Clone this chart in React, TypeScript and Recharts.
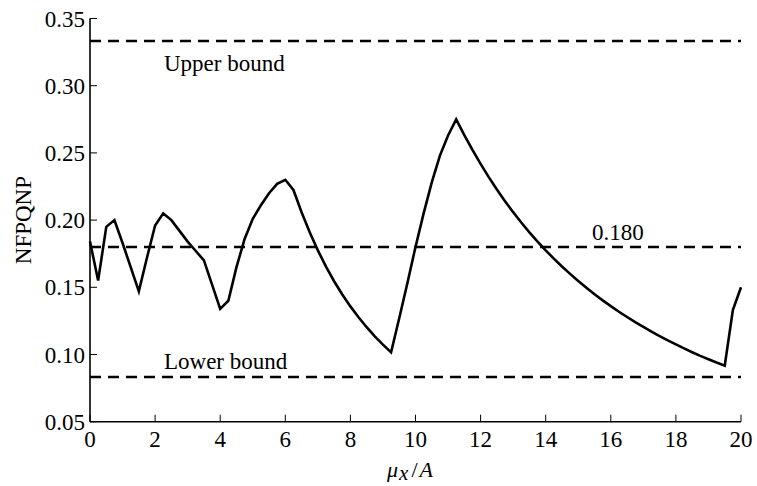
import { LineChart, Line, XAxis, YAxis, ReferenceLine } from 'recharts';

// normalised frequency vs mu_x / A, sampled every 0.25
const muX = [
  0, 0.25, 0.5, 0.75, 1, 1.25, 1.5, 1.75, 2, 2.25, 2.5, 2.75, 3, 3.25, 3.5, 3.75,
  4, 4.25, 4.5, 4.75, 5, 5.25, 5.5, 5.75, 6, 6.25, 6.5, 6.75, 7, 7.25, 7.5, 7.75,
  8, 8.25, 8.5, 8.75, 9, 9.25, 9.5, 9.75, 10, 10.25, 10.5, 10.75, 11, 11.25, 11.5, 11.75,
  12, 12.25, 12.5, 12.75, 13, 13.25, 13.5, 13.75, 14, 14.25, 14.5, 14.75, 15, 15.25, 15.5, 15.75,
  16, 16.25, 16.5, 16.75, 17, 17.25, 17.5, 17.75, 18, 18.25, 18.5, 18.75, 19, 19.25, 19.5, 19.75,
  20,
];

const nfpqnp = [
  0.184, 0.155, 0.195, 0.2, 0.183, 0.165, 0.147, 0.172, 0.196, 0.205, 0.2, 0.192, 0.184, 0.177, 0.17, 0.152,
  0.134, 0.14, 0.165, 0.186, 0.201, 0.211, 0.22, 0.227, 0.23, 0.2224, 0.2058, 0.1909, 0.1775, 0.1654, 0.1545, 0.1447,
  0.1358, 0.1277, 0.1203, 0.1135, 0.1073, 0.1016, 0.127, 0.153, 0.18, 0.205, 0.228, 0.248, 0.263, 0.275, 0.2632, 0.2522,
  0.2418, 0.232, 0.2228, 0.2141, 0.2059, 0.1982, 0.1909, 0.184, 0.1775, 0.1713, 0.1655, 0.16, 0.1547, 0.1497, 0.1449, 0.1403,
  0.136, 0.1318, 0.1279, 0.1241, 0.1205, 0.117, 0.1137, 0.1105, 0.1075, 0.1045, 0.1017, 0.099, 0.0965, 0.094, 0.0917, 0.133,
  0.15,
];

const xTicks = [0, 2, 4, 6, 8, 10, 12, 14, 16, 18, 20];
const yTicks = [0.05, 0.1, 0.15, 0.2, 0.25, 0.3, 0.35];

const upperBound = 1 / 3;
const lowerBound = 1 / 12;
const midLevel = 0.18;

const FONT = '"Liberation Serif", "Times New Roman", serif';
const FS = 23;

const data = muX.map((x, i) => ({ x, y: nfpqnp[i] }));

const tickStyle = { fill: '#000', fontSize: FS, fontFamily: FONT };

const boundLabel = (text: string, dx: number, dy: number) => (props: any) => {
  const vb = props.viewBox;
  return (
    <text x={vb.x + dx} y={vb.y + dy} fontFamily={FONT} fontSize={FS} fill="#000">
      {text}
    </text>
  );
};

const YLabel = (props: any) => {
  const vb = props.viewBox;
  const cx = vb.x + 31.5;
  const cy = vb.y + vb.height / 2;
  return (
    <text x={cx} y={cy} transform={`rotate(-90, ${cx}, ${cy})`} textAnchor="middle"
      fontFamily={FONT} fontSize={FS} fill="#000">
      NFPQNP
    </text>
  );
};

const XLabel = (props: any) => {
  const vb = props.viewBox;
  const cx = vb.x + vb.width / 2;
  return (
    <text x={cx - 28.5} y={vb.y + 55.5} fontFamily={FONT} fontSize={22} fill="#000">
      <tspan fontStyle="italic">μ</tspan>
      <tspan fontStyle="italic" dx={1} dy={3} fontSize={21}>x</tspan>
      <tspan dx={3} dy={-3}>/</tspan>
      <tspan fontStyle="italic" dx={2}>A</tspan>
    </text>
  );
};

export default function App() {
  return (
    <div style={{ position: 'absolute', left: 0, top: 0, background: '#fff', fontFamily: FONT }}>
      <LineChart width={757} height={486} data={data}
        margin={{ top: 18.5, right: 16, bottom: 0, left: 0 }}>
        <XAxis dataKey="x" type="number" domain={[0, 20]} ticks={xTicks} interval={0}
          height={64.3} tickSize={-7} tickMargin={16} tick={tickStyle}
          axisLine={{ stroke: '#000', strokeWidth: 1.6 }} tickLine={{ stroke: '#000', strokeWidth: 1 }}
          label={<XLabel />} />
        <XAxis xAxisId="t" dataKey="x" type="number" orientation="top" domain={[0, 20]} ticks={xTicks}
          interval={0} height={0} tickSize={-7} tick={false}
          axisLine={{ stroke: '#000', strokeWidth: 1 }} tickLine={{ stroke: '#000', strokeWidth: 1 }} />
        <YAxis type="number" domain={[0.05, 0.35]} ticks={yTicks} interval={0} width={90}
          tickSize={-7} tickMargin={12} tick={tickStyle} tickFormatter={(v: number) => v.toFixed(2)}
          axisLine={{ stroke: '#000', strokeWidth: 1.6 }} tickLine={{ stroke: '#000', strokeWidth: 1 }}
          label={<YLabel />} />
        <YAxis yAxisId="r" type="number" orientation="right" domain={[0.05, 0.35]} ticks={yTicks}
          interval={0} width={0} tickSize={-7} tick={false}
          axisLine={{ stroke: '#000', strokeWidth: 1 }} tickLine={{ stroke: '#000', strokeWidth: 1 }} />
        <ReferenceLine y={upperBound} stroke="#000" strokeWidth={2.5} strokeDasharray="11 7"
          label={boundLabel('Upper bound', 74, 30.5)} />
        <ReferenceLine y={midLevel} stroke="#000" strokeWidth={2.5} strokeDasharray="11 7"
          label={boundLabel(midLevel.toFixed(3), 502, -6.5)} />
        <ReferenceLine y={lowerBound} stroke="#000" strokeWidth={2.5} strokeDasharray="11 7"
          label={boundLabel('Lower bound', 74, -7.5)} />
        <Line type="linear" dataKey="y" stroke="#000" strokeWidth={2.6} dot={false}
          activeDot={false} isAnimationActive={false} />
      </LineChart>
    </div>
  );
}
